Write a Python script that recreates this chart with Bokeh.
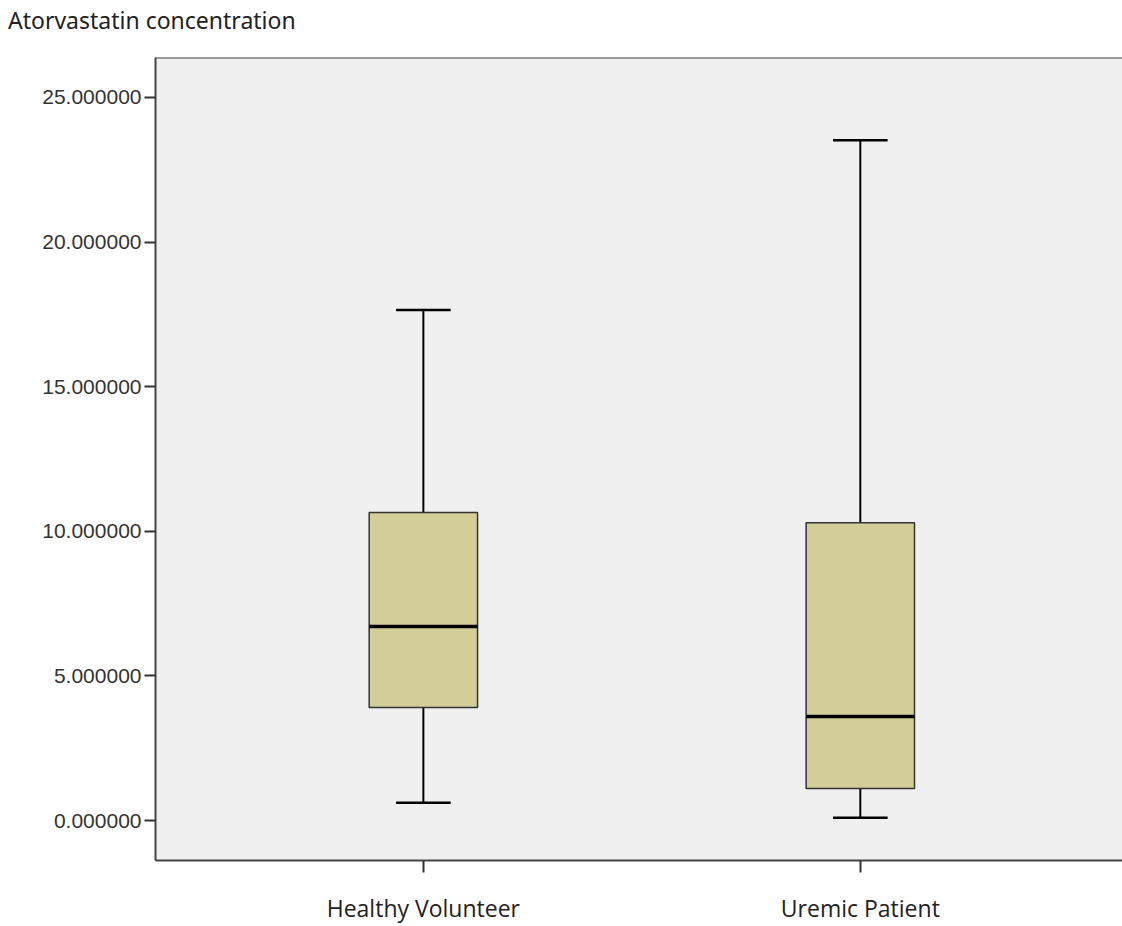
from bokeh.plotting import figure
from bokeh.models import FixedTicker, Span, Range1d, Div
from bokeh.layouts import column
from bokeh.embed import file_html
from bokeh.resources import INLINE

# Box-plot summary statistics per group
groups = ["Healthy Volunteer", "Uremic Patient"]
whisker_low = [0.62, 0.10]
q1 = [3.91, 1.11]
median = [6.71, 3.60]
q3 = [10.65, 10.30]
whisker_high = [17.65, 23.52]
y_ticks = [0, 5, 10, 15, 20, 25]

xs = [i + 1 for i in range(len(groups))]
box_w = 0.248
cap_w = 0.125
y_lo, y_hi = -1.38, 26.38

# heading above the plot
title = Div(text="Atorvastatin concentration", width=1114, height=40,
            margin=(0, 0, 0, 8),
            styles={"font-family": "Noto Sans", "font-size": "23px",
                    "line-height": "40px", "color": "#222222",
                    "white-space": "nowrap"})

p = figure(width=1122, height=886, output_backend="svg", toolbar_location=None,
           x_range=Range1d(0.387, 2.6), y_range=Range1d(y_lo, y_hi),
           min_border_left=155, min_border_right=0, min_border_top=17,
           min_border_bottom=66, margin=(0, 0, 0, 0))

p.border_fill_color = "white"
p.background_fill_color = "#F0F0F0"
p.outline_line_color = None
p.grid.visible = False

# top border line of the frame
p.add_layout(Span(location=y_hi, dimension="width", line_color="#444444", line_width=2))

# axes
for ax in (p.xaxis, p.yaxis):
    ax.axis_line_color = "#444444"
    ax.axis_line_width = 2
    ax.major_tick_line_color = "#333333"
    ax.major_tick_line_width = 2
    ax.major_tick_in = 0
    ax.minor_tick_line_color = None
    ax.major_label_text_color = "#333333"

p.yaxis.ticker = FixedTicker(ticks=y_ticks)
p.yaxis.major_label_overrides = {t: f"{t:.6f}" for t in y_ticks}
p.yaxis.major_tick_out = 11
p.yaxis.major_label_standoff = 3
p.yaxis.major_label_text_font = "Liberation Sans"
p.yaxis.major_label_text_font_size = "21px"

p.xaxis.ticker = FixedTicker(ticks=xs)
p.xaxis.major_label_overrides = {x: g for x, g in zip(xs, groups)}
p.xaxis.major_tick_out = 12
p.xaxis.major_label_standoff = 19
p.xaxis.major_label_text_font = "Open Sans"
p.xaxis.major_label_text_font_size = "23px"
p.xaxis.major_label_text_color = "#222222"

# whiskers
p.segment(x0=xs, y0=q3, x1=xs, y1=whisker_high, line_color="black", line_width=2)
p.segment(x0=xs, y0=whisker_low, x1=xs, y1=q1, line_color="black", line_width=2)
# caps
p.segment(x0=[x - cap_w / 2 for x in xs], y0=whisker_high,
          x1=[x + cap_w / 2 for x in xs], y1=whisker_high, line_color="black", line_width=2.5)
p.segment(x0=[x - cap_w / 2 for x in xs], y0=whisker_low,
          x1=[x + cap_w / 2 for x in xs], y1=whisker_low, line_color="black", line_width=2.5)
# boxes
p.vbar(x=xs, width=box_w, bottom=q1, top=q3, fill_color="#D3CE98",
       line_color="#333333", line_width=1.5)
# medians
p.segment(x0=[x - box_w / 2 for x in xs], y0=median,
          x1=[x + box_w / 2 for x in xs], y1=median, line_color="black", line_width=3.5)

layout = column(title, p, spacing=0)
open("out.html", "w").write(file_html(layout, INLINE))
